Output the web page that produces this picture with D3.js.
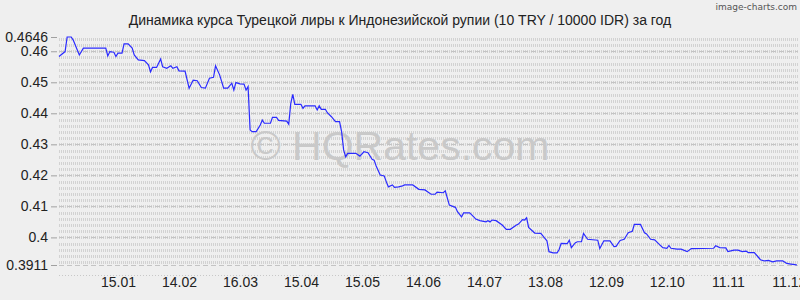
<!DOCTYPE html>
<html lang="ru">
<head>
<meta charset="utf-8">
<title>TRY / IDR</title>
<script src="https://d3js.org/d3.v7.min.js"></script>
<style>
  body { margin: 0; background: #efefef; }
  svg { display: block; font-family: "Liberation Sans", Arial, sans-serif; }
</style>
</head>
<body>
<div id="chart"></div>
<script>

// data (10 TRY / 10000 IDR)
var dates = [
  "2012-12-17","2012-12-20","2012-12-21","2012-12-23","2012-12-24","2012-12-26","2012-12-27","2012-12-29",
  "2013-01-09","2013-01-10","2013-01-11","2013-01-13","2013-01-14","2013-01-15","2013-01-17","2013-01-18",
  "2013-01-20","2013-01-22","2013-01-23","2013-01-25","2013-01-28","2013-01-30","2013-01-31","2013-02-01",
  "2013-02-03","2013-02-05","2013-02-06","2013-02-08","2013-02-10","2013-02-11","2013-02-13","2013-02-14",
  "2013-02-17","2013-02-19","2013-02-21","2013-02-23","2013-02-25","2013-02-27","2013-03-01","2013-03-03",
  "2013-03-04","2013-03-06","2013-03-08","2013-03-10","2013-03-12","2013-03-13","2013-03-14","2013-03-16",
  "2013-03-18","2013-03-19","2013-03-20","2013-03-21","2013-03-22","2013-03-24","2013-03-26","2013-03-27",
  "2013-03-28","2013-03-31","2013-04-01","2013-04-03","2013-04-04","2013-04-08","2013-04-09","2013-04-10",
  "2013-04-11","2013-04-12","2013-04-15","2013-04-16","2013-04-17","2013-04-22","2013-04-23","2013-04-24",
  "2013-04-25","2013-04-27","2013-04-28","2013-04-30","2013-05-02","2013-05-04","2013-05-05","2013-05-06",
  "2013-05-07","2013-05-08","2013-05-12","2013-05-14","2013-05-16","2013-05-18","2013-05-20","2013-05-21",
  "2013-05-22","2013-05-24","2013-05-26","2013-05-27","2013-05-28","2013-05-30","2013-05-31","2013-06-02",
  "2013-06-04","2013-06-05","2013-06-09","2013-06-12","2013-06-15","2013-06-18","2013-06-20","2013-06-21",
  "2013-06-24","2013-06-25","2013-06-27","2013-06-29","2013-06-30","2013-07-01","2013-07-03","2013-07-04",
  "2013-07-07","2013-07-09","2013-07-10","2013-07-12","2013-07-15","2013-07-16","2013-07-17","2013-07-18",
  "2013-07-20","2013-07-23","2013-07-25","2013-07-27","2013-07-30","2013-07-31","2013-08-02","2013-08-03",
  "2013-08-04","2013-08-05","2013-08-08","2013-08-11","2013-08-13","2013-08-14","2013-08-15","2013-08-17",
  "2013-08-19","2013-08-20","2013-08-21","2013-08-24","2013-08-25","2013-08-26","2013-08-28","2013-08-29",
  "2013-08-31","2013-09-01","2013-09-03","2013-09-08","2013-09-09","2013-09-11","2013-09-14","2013-09-16",
  "2013-09-17","2013-09-19","2013-09-21","2013-09-23","2013-09-25","2013-09-26","2013-09-29","2013-10-01",
  "2013-10-02","2013-10-04","2013-10-06","2013-10-08","2013-10-10","2013-10-12","2013-10-13","2013-10-14",
  "2013-10-17","2013-10-19","2013-10-22","2013-10-24","2013-11-04","2013-11-05","2013-11-07","2013-11-10",
  "2013-11-11","2013-11-14","2013-11-16","2013-11-18","2013-11-20","2013-11-21","2013-11-24","2013-11-26",
  "2013-11-27","2013-11-29","2013-12-01","2013-12-03","2013-12-05","2013-12-08","2013-12-10","2013-12-12",
  "2013-12-14","2013-12-15"
];

var rates = [
  0.4583,0.4599,0.4646,0.4646,0.4636,0.4604,0.4588,0.4610,
  0.4610,0.4585,0.4599,0.4597,0.4583,0.4594,0.4594,0.4624,
  0.4624,0.4610,0.4588,0.4572,0.4570,0.4556,0.4534,0.4548,
  0.4548,0.4575,0.4550,0.4545,0.4553,0.4545,0.4550,0.4537,
  0.4536,0.4481,0.4507,0.4505,0.4483,0.4481,0.4513,0.4516,
  0.4553,0.4524,0.4481,0.4481,0.4497,0.4475,0.4499,0.4495,
  0.4494,0.4475,0.4486,0.4346,0.4341,0.4341,0.4362,0.4378,
  0.4368,0.4368,0.4387,0.4387,0.4377,0.4375,0.4365,0.4432,
  0.4461,0.4429,0.4429,0.4416,0.4424,0.4424,0.4411,0.4424,
  0.4413,0.4413,0.4402,0.4389,0.4373,0.4373,0.4341,0.4282,
  0.4260,0.4271,0.4271,0.4262,0.4276,0.4273,0.4252,0.4249,
  0.4230,0.4201,0.4198,0.4179,0.4163,0.4169,0.4161,0.4163,
  0.4166,0.4169,0.4169,0.4155,0.4153,0.4139,0.4139,0.4146,
  0.4144,0.4150,0.4104,0.4099,0.4097,0.4083,0.4066,0.4079,
  0.4079,0.4066,0.4059,0.4054,0.4050,0.4054,0.4050,0.4056,
  0.4054,0.4040,0.4026,0.4026,0.4040,0.4043,0.4057,0.4056,
  0.4063,0.4032,0.4014,0.4013,0.3997,0.3989,0.3954,0.3950,
  0.3950,0.3961,0.3981,0.3980,0.3991,0.3967,0.3983,0.3986,
  0.3986,0.4013,0.3994,0.3991,0.3964,0.3989,0.3989,0.3970,
  0.3971,0.3990,0.3994,0.4015,0.4020,0.4042,0.4042,0.4015,
  0.4011,0.3994,0.3992,0.3979,0.3967,0.3965,0.3974,0.3965,
  0.3962,0.3962,0.3954,0.3964,0.3965,0.3973,0.3967,0.3966,
  0.3954,0.3959,0.3959,0.3954,0.3956,0.3951,0.3951,0.3936,
  0.3928,0.3924,0.3926,0.3921,0.3924,0.3924,0.3916,0.3914,
  0.3912,0.3911
];

var xTickDates = ["2013-01-15","2013-02-14","2013-03-16","2013-04-15","2013-05-15","2013-06-14",
                  "2013-07-14","2013-08-13","2013-09-12","2013-10-12","2013-11-11","2013-12-11"];
var yTicks = [0.3911, 0.40, 0.41, 0.42, 0.43, 0.44, 0.45, 0.46, 0.4646];
var yMajor = [0.40, 0.41, 0.42, 0.43, 0.44, 0.45, 0.46];

var title = "Динамика курса Турецкой лиры к Индонезийской рупии (10 TRY / 10000 IDR) за год";

var width = 800, height = 300;
var margin = {left: 59, right: 3, top: 37, bottom: 35};

var parse = d3.timeParse("%Y-%m-%d");
var data = dates.map(function(d, i) { return {date: parse(d), value: rates[i]}; });

var x = d3.scaleTime()
  .domain([parse("2012-12-17"), parse("2013-12-15")])
  .range([margin.left, width - margin.right]);

var y = d3.scaleLinear()
  .domain([d3.min(yTicks), d3.max(yTicks)])
  .range([height - margin.bottom, margin.top]);

var svg = d3.select("#chart").append("svg")
  .attr("width", width)
  .attr("height", height);

svg.append("rect").attr("width", width).attr("height", height).attr("fill", "#efefef");

// minor grid: rows of tiny vertical dashes every 0.002
var minor = d3.range(0.392, 0.4649, 0.002);
svg.append("g")
  .selectAll("line")
  .data(minor)
  .join("line")
    .attr("x1", margin.left)
    .attr("x2", width - 2)
    .attr("y1", function(d) { return Math.round(y(d)) + 0.5; })
    .attr("y2", function(d) { return Math.round(y(d)) + 0.5; })
    .attr("stroke", "#d2d2d2")
    .attr("stroke-width", 3)
    .attr("stroke-dasharray", "1 1")
    .attr("shape-rendering", "crispEdges");

// major grid: dashed lines
svg.append("g")
  .selectAll("line")
  .data(yMajor.concat([d3.min(yTicks)]))
  .join("line")
    .attr("x1", margin.left)
    .attr("x2", width - 2)
    .attr("y1", function(d) { return Math.round(y(d)) + 0.5; })
    .attr("y2", function(d) { return Math.round(y(d)) + 0.5; })
    .attr("stroke", "#c4c4c4")
    .attr("stroke-dasharray", "5 3")
    .attr("shape-rendering", "crispEdges");

// dotted line under the plot
svg.append("line")
  .attr("x1", margin.left).attr("x2", width - 2)
  .attr("y1", 275.5).attr("y2", 275.5)
  .attr("stroke", "#c8c8c8")
  .attr("stroke-dasharray", "1 2")
  .attr("shape-rendering", "crispEdges");

// watermark
svg.append("text")
  .attr("x", 400)
  .attr("y", 160)
  .attr("text-anchor", "middle")
  .attr("font-size", 41)
  .attr("fill", "#c9c9c9")
  .text("© HQRates.com");

// y axis
var yAxis = d3.axisLeft(y)
  .tickValues(yTicks)
  .tickSize(6)
  .tickPadding(3)
  .tickFormat(function(d) { return String(+d.toFixed(4)); });

var gy = svg.append("g")
  .attr("transform", "translate(" + (margin.left - 2) + ",0)")
  .call(yAxis);
gy.select(".domain").remove();
gy.selectAll(".tick line").attr("stroke", "#a0a0a0");
gy.selectAll(".tick text")
  .attr("fill", "#222")
  .attr("font-size", 14)
  .attr("font-family", "Liberation Sans, Arial, sans-serif");

// x axis
var xAxis = d3.axisBottom(x)
  .tickValues(xTickDates.map(parse))
  .tickSize(0)
  .tickPadding(0)
  .tickFormat(d3.timeFormat("%d.%m"));

var gx = svg.append("g")
  .attr("transform", "translate(0," + (height - 23) + ")")
  .call(xAxis);
gx.select(".domain").remove();
gx.selectAll(".tick text")
  .attr("fill", "#222")
  .attr("font-size", 14)
  .attr("dy", "0.71em")
  .attr("font-family", "Liberation Sans, Arial, sans-serif");

// the rate line
var line = d3.line()
  .x(function(d) { return x(d.date); })
  .y(function(d) { return y(d.value); });

svg.append("path")
  .datum(data)
  .attr("d", line)
  .attr("fill", "none")
  .attr("stroke", "#2b2bff")
  .attr("stroke-width", 1.2);

// title
svg.append("text")
  .attr("x", 400)
  .attr("y", 25)
  .attr("text-anchor", "middle")
  .attr("font-size", 14)
  .attr("fill", "#222")
  .text(title);

svg.append("text")
  .attr("x", 797)
  .attr("y", 10)
  .attr("text-anchor", "end")
  .attr("font-size", 9)
  .attr("font-family", "DejaVu Sans, sans-serif")
  .attr("fill", "#555")
  .text("image-charts.com");

</script>
</body>
</html>
